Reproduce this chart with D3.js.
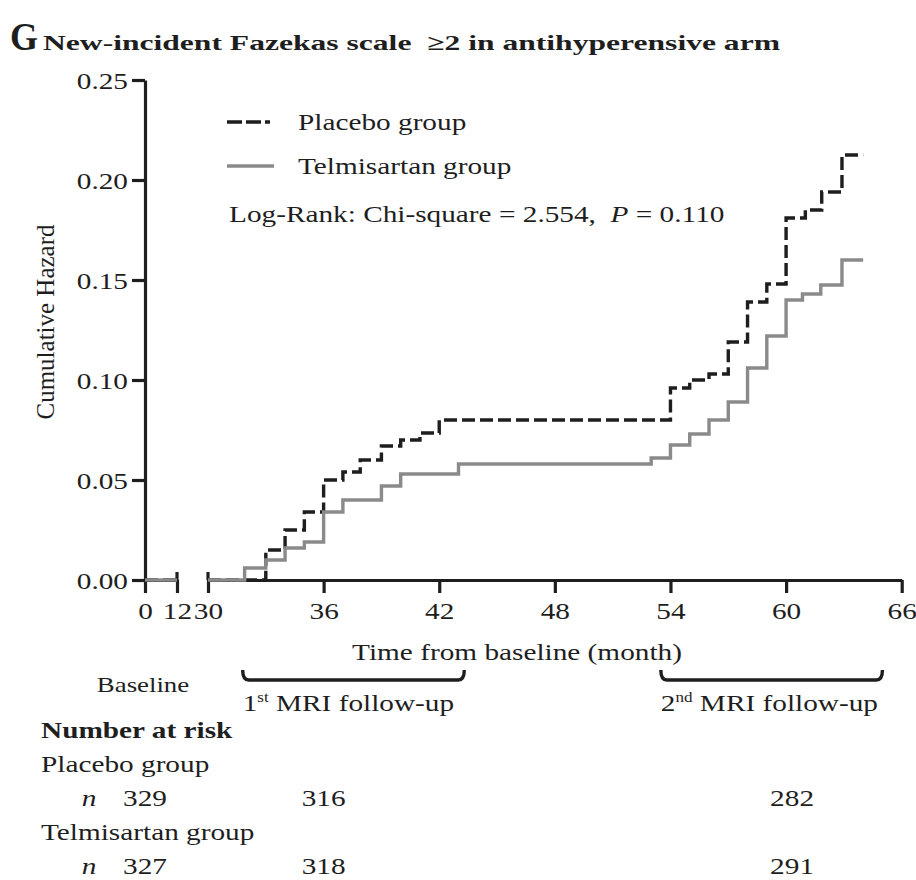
<!DOCTYPE html>
<html>
<head>
<meta charset="utf-8">
<script src="https://cdn.jsdelivr.net/npm/d3@7"></script>
<style>
  html, body { margin: 0; padding: 0; background: #fff; }
  svg { display: block; font-family: "Liberation Serif", "Times New Roman", serif; }
</style>
</head>
<body>
<svg id="chart" width="916" height="880"></svg>
<script>
// Cumulative hazard step functions (month of event, cumulative hazard after the step)
const placeboMonths = [0, 33, 34, 35, 36, 37, 37.9, 39, 40, 41, 42, 54, 55, 56, 57, 58, 59, 60, 61, 61.85, 62.9, 64];
const placeboHazard = [0, 0.015, 0.025, 0.034, 0.050, 0.054, 0.060, 0.067, 0.070, 0.0735, 0.080, 0.096, 0.100, 0.103, 0.119, 0.139, 0.148, 0.181, 0.185, 0.194, 0.2125, 0.2125];
const telmiMonths = [0, 31.9, 33, 34, 35, 36, 37, 39, 40, 43, 53, 54, 55, 56, 57, 58, 59, 60, 60.85, 61.8, 62.9, 64];
const telmiHazard = [0, 0.006, 0.010, 0.016, 0.019, 0.034, 0.040, 0.047, 0.053, 0.058, 0.061, 0.0675, 0.073, 0.080, 0.089, 0.106, 0.122, 0.140, 0.143, 0.1475, 0.160, 0.160];

// Axis ticks (the time axis is broken between 12 and 30 months)
const xTicksEarly = [0, 12];
const xTicksLate = [30, 36, 42, 48, 54, 60, 66];
const yTicks = [0, 0.05, 0.10, 0.15, 0.20, 0.25];

// Number at risk table
const riskMonths = [0, 36, 60];
const placeboAtRisk = [329, 316, 282];
const telmiAtRisk = [327, 318, 291];

const svg = d3.select("#chart");
const INK = "#1e1e1e";
const GREY = "#8a8a8a";
const SX = 1.22;      // horizontal stretch of the serif lettering
const FS = 24;
const NB = "\u00a0";

// Scales: two linear pieces for the broken time axis
const xEarly = d3.scaleLinear().domain([0, 12]).range([145, 177]);
const xLate = d3.scaleLinear().domain([30, 66]).range([208, 901.7]);
const x = t => (t <= 12 ? xEarly(t) : xLate(t));
const y = d3.scaleLinear().domain([0, 0.25]).range([580, 80]);

function txt(parent, px, py, content, o = {}) {
  const t = parent.append("text")
    .attr("transform", `translate(${px},${py}) scale(${o.sx ?? SX},1)`)
    .attr("text-anchor", o.anchor || "start")
    .attr("font-size", o.size || FS)
    .attr("font-weight", o.weight || "normal")
    .attr("fill", INK);
  const parts = Array.isArray(content) ? content : [{ t: content }];
  parts.forEach(p => {
    const s = t.append("tspan").text(p.t);
    if (p.italic) s.attr("font-style", "italic");
    if (p.size) s.attr("font-size", p.size);
    if (p.dy) s.attr("dy", p.dy);
  });
  return t;
}

// ---- Title ----
txt(svg, 10, 50, "G", { size: 40, weight: "bold", sx: 0.9 });
svg.append("text")
  .attr("x", 43).attr("y", 50)
  .attr("font-size", 22).attr("font-weight", "bold").attr("fill", INK)
  .attr("textLength", 737).attr("lengthAdjust", "spacingAndGlyphs")
  .text("New-incident Fazekas scale" + NB + NB + "\u22652 in antihyperensive arm");

// ---- Axes ----
const styleAxis = g => {
  g.select(".domain").attr("stroke", INK).attr("stroke-width", 3.2);
  g.selectAll(".tick line").attr("stroke", INK).attr("stroke-width", 3.2);
  g.selectAll(".tick text").attr("fill", INK).attr("font-size", FS)
    .attr("font-family", "Liberation Serif, Times New Roman, serif");
};

const yAxis = svg.append("g").attr("transform", "translate(145,0)")
  .call(d3.axisLeft(y).tickValues(yTicks).tickFormat(d3.format(".2f")).tickSize(13).tickSizeOuter(0))
  .call(styleAxis);
yAxis.selectAll(".tick text")
  .attr("x", 0).attr("dy", "0.34em")
  .attr("transform", `translate(-17,0) scale(${SX},1)`);

function bottomAxis(scale, ticks) {
  const g = svg.append("g").attr("transform", "translate(0,580)")
    .call(d3.axisBottom(scale).tickValues(ticks).tickFormat(d3.format("d")).tickSize(13).tickSizeOuter(0))
    .call(styleAxis);
  g.selectAll(".tick text").attr("y", 22).attr("dy", "0.71em")
    .attr("transform", `scale(${SX},1)`);
  return g;
}
bottomAxis(xEarly, xTicksEarly);
bottomAxis(xLate, xTicksLate);

// caps marking the axis break
[12, 30].forEach(t => {
  svg.append("line").attr("x1", x(t)).attr("x2", x(t)).attr("y1", 572).attr("y2", 580)
    .attr("stroke", INK).attr("stroke-width", 3.2);
});

// y axis title
svg.append("text")
  .attr("transform", "translate(54,322) rotate(-90)")
  .attr("text-anchor", "middle").attr("font-size", 25).attr("fill", INK)
  .text("Cumulative Hazard");

// ---- Step curves ----
function pieces(months, values) {
  const valueAt = t => { let v = 0; months.forEach((m, i) => { if (m <= t) v = values[i]; }); return v; };
  const early = months.map((m, i) => [m, values[i]]).filter(d => d[0] <= 12);
  early.push([12, valueAt(12)]);
  const late = [[30, valueAt(30)]].concat(months.map((m, i) => [m, values[i]]).filter(d => d[0] > 30));
  return [early, late];
}
const step = d3.line().x(d => x(d[0])).y(d => y(d[1])).curve(d3.curveStepAfter);

pieces(placeboMonths, placeboHazard).forEach(seg => {
  svg.append("path").attr("d", step(seg)).attr("fill", "none")
    .attr("stroke", INK).attr("stroke-width", 3.4).attr("stroke-dasharray", "13,5");
});
pieces(telmiMonths, telmiHazard).forEach(seg => {
  svg.append("path").attr("d", step(seg)).attr("fill", "none")
    .attr("stroke", GREY).attr("stroke-width", 3.4);
});

// ---- Legend ----
svg.append("line").attr("x1", 227).attr("x2", 270).attr("y1", 122).attr("y2", 122)
  .attr("stroke", INK).attr("stroke-width", 3.4).attr("stroke-dasharray", "15,4");
txt(svg, 298, 130, "Placebo group");
svg.append("line").attr("x1", 227).attr("x2", 274).attr("y1", 166).attr("y2", 166)
  .attr("stroke", GREY).attr("stroke-width", 3.4);
txt(svg, 298, 174, "Telmisartan group");
txt(svg, 229, 222, [
  { t: "Log-Rank: Chi-square = 2.554," + NB + NB },
  { t: "P", italic: true },
  { t: " = 0.110" }
]);

// ---- Axis title and follow-up windows ----
txt(svg, 517, 660, "Time from baseline (month)", { anchor: "middle" });

const windows = [[31.8, 43.3], [53.5, 65]];
windows.forEach(([a, b]) => {
  const x0 = x(a), x1 = x(b);
  svg.append("path")
    .attr("d", `M${x0},670 Q${x0},680 ${x0 + 6},680 L${x1 - 6},680 Q${x1},680 ${x1},670`)
    .attr("fill", "none").attr("stroke", INK).attr("stroke-width", 3.4);
});
txt(svg, 143, 692, "Baseline", { anchor: "middle", size: 22 });
txt(svg, x(31.8), 711, [{ t: "1" }, { t: "st", size: 14, dy: -9 }, { t: " MRI follow-up", dy: 9 }]);
txt(svg, x(53.5), 711, [{ t: "2" }, { t: "nd", size: 14, dy: -9 }, { t: " MRI follow-up", dy: 9 }]);

// ---- Number at risk ----
txt(svg, 41, 738, "Number at risk", { weight: "bold" });
txt(svg, 41, 772, "Placebo group");
txt(svg, 89, 806, [{ t: "n", italic: true }], { anchor: "middle" });
placeboAtRisk.forEach((n, i) => txt(svg, x(riskMonths[i]) + (i === 2 ? 6 : 0), 806, String(n), { anchor: "middle" }));
txt(svg, 41, 840, "Telmisartan group");
txt(svg, 89, 874, [{ t: "n", italic: true }], { anchor: "middle" });
telmiAtRisk.forEach((n, i) => txt(svg, x(riskMonths[i]) + (i === 2 ? 6 : 0), 874, String(n), { anchor: "middle" }));
</script>
</body>
</html>
